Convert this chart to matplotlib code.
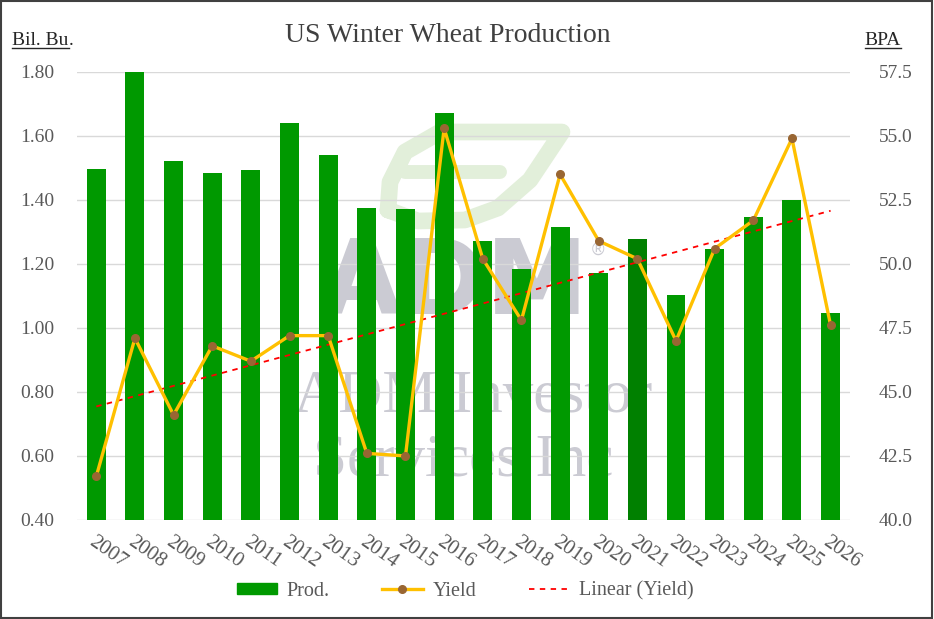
import numpy as np
import matplotlib.pyplot as plt
from matplotlib.lines import Line2D
from matplotlib.patches import Rectangle
from matplotlib.transforms import Affine2D

plt.rcParams['font.family'] = ['Liberation Serif', 'DejaVu Serif']

# Data
years = [str(y) for y in range(2007, 2027)]
prod = [1.496, 1.800, 1.522, 1.483, 1.492, 1.641, 1.541, 1.374, 1.372, 1.671,
        1.271, 1.183, 1.315, 1.171, 1.277, 1.102, 1.246, 1.348, 1.400, 1.046]
yield_bpa = [41.7, 47.1, 44.1, 46.8, 46.2, 47.2, 47.2, 42.6, 42.5, 55.3,
             50.2, 47.8, 53.5, 50.9, 50.2, 47.0, 50.6, 51.7, 54.9, 47.6]
left_ticks = [0.40, 0.60, 0.80, 1.00, 1.20, 1.40, 1.60, 1.80]
right_ticks = [40.0, 42.5, 45.0, 47.5, 50.0, 52.5, 55.0, 57.5]

x = np.arange(len(years))
bar_colors = ['#009900'] * len(years)
bar_colors[years.index('2021')] = '#008000'

W, H = 934, 619
fig = plt.figure(figsize=(9.34, 6.19), dpi=100)
ax = fig.add_axes([0.0824, 0.160, 0.8276, 0.7238])
ax2 = ax.twinx()

txt_col = '#595959'

# watermark (pixel coords from the top-left corner of the image)
px = Affine2D().scale(1 / W, -1 / H).translate(0, 1) + fig.transFigure
leaf_col = '#E2EFDA'
ax.plot([388, 390, 405, 440, 562, 530, 498, 465, 418, 388],
        [210, 182, 152, 132, 132, 180, 208, 220, 221, 210],
        color=leaf_col, lw=12, solid_capstyle='round', solid_joinstyle='round',
        transform=px, zorder=0.2, clip_on=False)
ax.plot([405, 500], [172, 172], color=leaf_col, lw=10, solid_capstyle='round',
        transform=px, zorder=0.2, clip_on=False)
wm = dict(color='#CBCBD3', ha='center', va='center', zorder=0.3, transform=px)
ax.text(455, 286, 'ADM', fontsize=74, fontweight='bold',
        family=['Liberation Sans Narrow', 'DejaVu Sans'], **wm)
ax.text(598, 250, '®', fontsize=12, family='DejaVu Sans', **wm)
ax.text(473, 397, 'ADM Investor', fontsize=44, **wm)
ax.text(463, 461, 'Services Inc', fontsize=44, **wm)

ax.bar(x, prod, width=0.49, color=bar_colors, zorder=2, label='Prod.')

fit = np.polyfit(x, yield_bpa, 1)
ax2.plot(x, np.polyval(fit, x), color='#FF0000', lw=1.3, ls=(0, (3, 3)),
         zorder=3, label='Linear (Yield)')
ax2.plot(x, yield_bpa, color='#FFC000', lw=2.4, marker='o', markersize=5.5,
         markerfacecolor='#996633', markeredgecolor='#996633', zorder=4, label='Yield')

ax.set_xlim(-0.5, len(years) - 0.5)
ax.set_ylim(0.40, 1.80)
ax2.set_ylim(40.0, 57.5)
ax.set_yticks(left_ticks)
ax.set_yticklabels([f'{v:.2f}' for v in left_ticks])
ax2.set_yticks(right_ticks)
ax2.set_yticklabels([f'{v:.1f}' for v in right_ticks])
ax.set_xticks(x)
ax.set_xticklabels(years, rotation=-35, ha='left', va='top', rotation_mode='anchor')

ax.set_zorder(ax2.get_zorder() - 1)
ax2.patch.set_visible(False)
ax.patch.set_visible(False)
ax.grid(axis='y', color='#D9D9D9', lw=1.0, zorder=1)
ax.set_axisbelow(True)
for a in (ax, ax2):
    for s in a.spines.values():
        s.set_visible(False)
    a.tick_params(length=0, labelsize=14, labelcolor=txt_col)
ax.tick_params(axis='y', pad=16)
ax2.tick_params(axis='y', pad=21)
ax.tick_params(axis='x', pad=9, labelsize=15)

fig.text(0.479, 0.943, 'US Winter Wheat Production', fontsize=20, color='#404040',
         ha='center', va='center')

handles = [Rectangle((0, 0), 1, 1, color='#009900'),
           Line2D([], [], color='#FFC000', lw=2.4, marker='o', markersize=5.5,
                  markerfacecolor='#996633', markeredgecolor='#996633'),
           Line2D([], [], color='#FF0000', lw=1.3, ls=(0, (3, 3)))]
fig.legend(handles, ['Prod.', 'Yield', 'Linear (Yield)'], loc='center',
           bbox_to_anchor=(0.498, 0.045), ncol=3, frameon=False, fontsize=14.5,
           labelcolor=txt_col, handlelength=2.0, handleheight=0.5,
           columnspacing=2.6, handletextpad=0.5)

# axis unit labels with underline
yb = 1 - 45 / H
t1 = fig.text(0.013, yb, 'Bil. Bu', fontsize=14, color='#262626', ha='left', va='baseline')
t2 = fig.text(0.926, yb, 'BPA', fontsize=14, color='#262626', ha='left', va='baseline')
fig.canvas.draw()
r = fig.canvas.get_renderer()
bb1 = t1.get_window_extent(r)
fig.text(bb1.x1 / fig.bbox.width, yb, '.', fontsize=14, color='#262626', ha='left', va='baseline')
for t in (t1, t2):
    bb = t.get_window_extent(r)
    yl = yb - 3 / fig.bbox.height
    fig.add_artist(Line2D([bb.x0 / fig.bbox.width, bb.x1 / fig.bbox.width], [yl, yl],
                          color='#262626', lw=1.0, transform=fig.transFigure))

fig.add_artist(Rectangle((0.001, 0.002), 0.997, 0.996, fill=False, edgecolor='#404040',
                         lw=1.5, transform=fig.transFigure))

fig.savefig('out.png', dpi=100)
